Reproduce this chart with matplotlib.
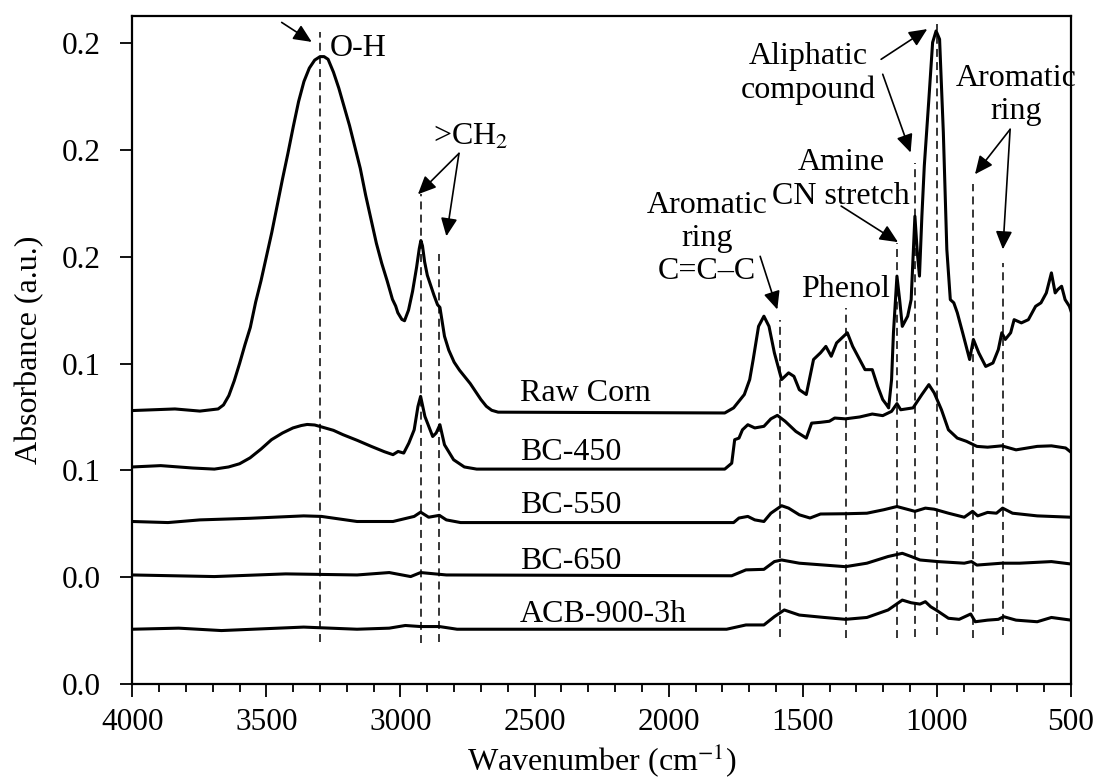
import matplotlib
matplotlib.use('Agg')
import matplotlib.pyplot as plt
from matplotlib.ticker import MultipleLocator, FormatStrFormatter

plt.rcParams['font.family'] = ['Liberation Serif', 'DejaVu Serif']
plt.rcParams['mathtext.fontset'] = 'stix'

# FTIR spectra (wavenumber in cm-1, absorbance offset per sample)
raw_wn = [4000, 3841, 3748, 3680, 3660, 3640, 3620, 3600, 3580, 3560, 3540, 3520, 3500, 3480,
          3460, 3440, 3420, 3400, 3380, 3360, 3340, 3320, 3300, 3285, 3270, 3250, 3230, 3210,
          3190, 3170, 3150, 3130, 3110, 3090, 3070, 3050, 3030, 3018, 3010, 2995, 2985, 2970,
          2955, 2940, 2930, 2924, 2918, 2910, 2900, 2890, 2875, 2862, 2853, 2845, 2836, 2820,
          2800, 2780, 2760, 2740, 2720, 2700, 2680, 2660, 2636, 1791, 1758, 1718, 1698, 1685,
          1665, 1645, 1626, 1606, 1579, 1553, 1533, 1513, 1487, 1460, 1434, 1414, 1394, 1374,
          1348, 1334, 1314, 1288, 1268, 1241, 1221, 1202, 1188, 1180, 1169, 1162, 1149, 1139,
          1129, 1109, 1096, 1082, 1073, 1065, 1056, 1047, 1030, 1016, 1003, 990, 976, 963,
          950, 937, 924, 904, 878, 864, 844, 818, 791, 771, 758, 745, 725, 712, 685, 659, 632,
          612, 592, 573, 559, 549, 535, 522, 506, 500]
raw_abs = [0.1024, 0.1030, 0.1022, 0.1030, 0.1045, 0.1080, 0.1135, 0.1200, 0.1270, 0.1335,
           0.1430, 0.1510, 0.1600, 0.1690, 0.1790, 0.1890, 0.1985, 0.2085, 0.2180, 0.2255,
           0.2305, 0.2335, 0.2348, 0.2348, 0.2338, 0.2290, 0.2230, 0.2160, 0.2090, 0.2010,
           0.1930, 0.1830, 0.1740, 0.1650, 0.1575, 0.1510, 0.1440, 0.1415, 0.1390, 0.1365,
           0.1360, 0.1400, 0.1470, 0.1560, 0.1630, 0.1660, 0.1640, 0.1580, 0.1530, 0.1500,
           0.1455, 0.1420, 0.1410, 0.1360, 0.1302, 0.1250, 0.1205, 0.1175, 0.1150, 0.1125,
           0.1095, 0.1065, 0.1040, 0.1025, 0.1018, 0.1015, 0.1034, 0.1084, 0.1140, 0.1215,
           0.1339, 0.1377, 0.1339, 0.1240, 0.1140, 0.1165, 0.1152, 0.1102, 0.1084, 0.1215,
           0.1240, 0.1264, 0.1227, 0.1277, 0.1302, 0.1315, 0.1264, 0.1215, 0.1177, 0.1177,
           0.1115, 0.1065, 0.1046, 0.1034, 0.1140, 0.1315, 0.1527, 0.1439, 0.1339, 0.1377,
           0.1439, 0.1751, 0.1614, 0.1527, 0.1751, 0.1939, 0.2188, 0.2401, 0.2444, 0.2413,
           0.2064, 0.1627, 0.1439, 0.1427, 0.1390, 0.1315, 0.1215, 0.1290, 0.1240, 0.1189,
           0.1202, 0.1252, 0.1315, 0.1290, 0.1315, 0.1364, 0.1352, 0.1364, 0.1414, 0.1427,
           0.1464, 0.1539, 0.1464, 0.1477, 0.1489, 0.1439, 0.1414, 0.1396]

bc450_wn = [4000, 3894, 3774, 3694, 3641, 3600, 3561, 3520, 3481, 3440, 3401, 3370, 3348, 3320,
            3295, 3250, 3215, 3160, 3109, 3060, 3028, 3009, 2988, 2969, 2949, 2935, 2925, 2909,
            2880, 2867, 2853, 2836, 2802, 2762, 2716, 1791, 1765, 1754, 1738, 1725, 1705, 1679,
            1645, 1619, 1595, 1566, 1526, 1487, 1467, 1434, 1401, 1381, 1341, 1288, 1241, 1202,
            1169, 1149, 1135, 1089, 1056, 1030, 1010, 983, 957, 924, 890, 851, 811, 758, 705,
            626, 573, 520, 500]
bc450_abs = [0.0813, 0.0818, 0.0809, 0.0805, 0.0813, 0.0825, 0.0847, 0.0880, 0.0915, 0.0940,
             0.0959, 0.0968, 0.0972, 0.0970, 0.0963, 0.0950, 0.0934, 0.0912, 0.0890, 0.0870,
             0.0859, 0.0871, 0.0865, 0.0902, 0.0952, 0.1039, 0.1077, 0.1002, 0.0927, 0.0940,
             0.0971, 0.0896, 0.0840, 0.0813, 0.0805, 0.0805, 0.0827, 0.0915, 0.0921, 0.0952,
             0.0971, 0.0959, 0.0965, 0.0993, 0.1006, 0.0984, 0.0946, 0.0921, 0.0977, 0.0980,
             0.0984, 0.0996, 0.0993, 0.1000, 0.1011, 0.1005, 0.1021, 0.1050, 0.1027, 0.1034,
             0.1084, 0.1121, 0.1090, 0.1027, 0.0952, 0.0921, 0.0909, 0.0890, 0.0887, 0.0892,
             0.0877, 0.0890, 0.0892, 0.0884, 0.0868]

bc550_wn = [4000, 3867, 3748, 3561, 3361, 3295, 3162, 3028, 2949, 2925, 2895, 2855, 2829, 2776,
            1758, 1738, 1705, 1679, 1645, 1619, 1579, 1553, 1513, 1473, 1434, 1341, 1261, 1198,
            1149, 1082, 1043, 1010, 957, 898, 867, 848, 811, 778, 755, 718, 626, 500]
bc550_abs = [0.0609, 0.0605, 0.0615, 0.0621, 0.0630, 0.0628, 0.0609, 0.0609, 0.0628, 0.0644,
             0.0625, 0.0632, 0.0615, 0.0605, 0.0605, 0.0622, 0.0628, 0.0615, 0.0609, 0.0640,
             0.0668, 0.0659, 0.0634, 0.0622, 0.0637, 0.0638, 0.0640, 0.0653, 0.0665, 0.0647,
             0.0659, 0.0655, 0.0640, 0.0625, 0.0647, 0.0630, 0.0643, 0.0640, 0.0659, 0.0640,
             0.0630, 0.0625]

bc650_wn = [4000, 3694, 3428, 3162, 3042, 2962, 2925, 2829, 1765, 1712, 1645, 1606, 1579, 1513,
            1420, 1341, 1261, 1182, 1129, 1096, 1063, 996, 898, 871, 851, 758, 692, 573, 500]
bc650_abs = [0.0409, 0.0403, 0.0413, 0.0409, 0.0418, 0.0403, 0.0418, 0.0409, 0.0406, 0.0428,
             0.0430, 0.0459, 0.0465, 0.0453, 0.0446, 0.0440, 0.0453, 0.0478, 0.0490, 0.0478,
             0.0465, 0.0459, 0.0453, 0.0459, 0.0446, 0.0453, 0.0453, 0.0459, 0.0450]

acb_wn = [4000, 3827, 3668, 3361, 3162, 3042, 2982, 2925, 2855, 2789, 1784, 1712, 1645, 1606,
          1569, 1513, 1420, 1341, 1261, 1182, 1129, 1096, 1063, 1043, 1023, 1003, 957, 917, 874,
          857, 811, 771, 751, 705, 626, 573, 500]
acb_abs = [0.0206, 0.0210, 0.0201, 0.0214, 0.0206, 0.0210, 0.0220, 0.0216, 0.0216, 0.0206,
           0.0206, 0.0222, 0.0222, 0.0253, 0.0278, 0.0259, 0.0250, 0.0243, 0.0250, 0.0278,
           0.0315, 0.0305, 0.0300, 0.0309, 0.0290, 0.0278, 0.0247, 0.0243, 0.0263, 0.0234,
           0.0240, 0.0243, 0.0253, 0.0240, 0.0234, 0.0250, 0.0240]

spectra = [(raw_wn, raw_abs), (bc450_wn, bc450_abs), (bc550_wn, bc550_abs),
           (bc650_wn, bc650_abs), (acb_wn, acb_abs)]
sample_names = ['Raw Corn', 'BC-450', 'BC-550', 'BC-650', 'ACB-900-3h']
name_baselines = [0.1058, 0.0840, 0.0640, 0.0431, 0.0234]

# band markers: position, top and bottom of the dashed guide
band_wn = [3300, 2925, 2858, 1585, 1340, 1147, 1081, 1001, 867, 755]
band_top = [0.2439, 0.1833, 0.1608, 0.1364, 0.1408, 0.1650, 0.1950, 0.2470, 0.1870, 0.1577]
band_bottom = [0.0160, 0.0154, 0.0160, 0.0178, 0.0172, 0.0172, 0.0178, 0.0185, 0.0172, 0.0185]

FS = 23

fig = plt.figure(figsize=(10.97, 7.8), dpi=100)
ax = fig.add_axes([0.1206, 0.1227, 0.8557, 0.8568])

for wn, ab in spectra:
    ax.plot(wn, ab, color='black', lw=2.2, solid_joinstyle='round')

ax.vlines(band_wn, band_bottom, band_top, colors='black', lw=1.1,
          linestyles=(0, (5.2, 3.4)))

for name, yb in zip(sample_names, name_baselines):
    ax.text(2555, yb, name, fontsize=FS, ha='left', va='baseline')

arrow = dict(arrowstyle='-|>,head_length=0.55,head_width=0.25', mutation_scale=20,
             color='black', lw=1.2, shrinkA=0, shrinkB=0)

def note(start, end):
    ax.annotate('', xy=end, xytext=start, arrowprops=arrow)

# O-H
ax.text(3265, 0.2351, 'O-H', fontsize=FS, ha='left', va='baseline')
note((3443, 0.2476), (3331, 0.2403))

# >CH2
ax.text(2879, 0.2017, r'>CH$_2$', fontsize=FS, ha='left', va='baseline')
note((2782, 0.1986), (2935, 0.1833))
note((2782, 0.1986), (2829, 0.1676))

# aromatic ring C=C-C
ax.text(1857, 0.1668, 'Aromatic\nring\nC=C\u2013C', fontsize=FS, ha='center', va='center')
note((1659, 0.1601), (1595, 0.1402))

ax.text(1340, 0.1477, 'Phenol', fontsize=FS, ha='center', va='center')

# amine
ax.text(1358, 0.1889, 'Amine\nCN stretch', fontsize=FS, ha='center', va='center')
note((1357, 0.1789), (1145, 0.1654))

# aliphatic
ax.text(1481, 0.2285, 'Aliphatic\ncompound', fontsize=FS, ha='center', va='center')
note((1208, 0.2338), (1036, 0.2451))
note((1202, 0.2282), (1098, 0.1989))

# aromatic ring (out of plane)
ax.text(705, 0.2205, 'Aromatic\nring', fontsize=FS, ha='center', va='center', clip_on=False)
note((727, 0.2076), (858, 0.1908))
note((727, 0.2076), (754, 0.1627))

ax.set_xlim(4000, 500)
ax.set_ylim(0, 0.25)
ax.xaxis.set_major_locator(MultipleLocator(500))
ax.xaxis.set_minor_locator(MultipleLocator(100))
ax.yaxis.set_major_locator(MultipleLocator(0.04))
ax.yaxis.set_major_formatter(FormatStrFormatter('%.1f'))
ax.tick_params(axis='both', which='major', direction='out', length=9, width=1.3,
               labelsize=22.5)
ax.tick_params(axis='x', which='major', pad=8)
ax.tick_params(axis='y', which='major', pad=14)
ax.tick_params(axis='x', which='minor', direction='out', length=6, width=1.3)
for sp in ax.spines.values():
    sp.set_linewidth(1.6)

ax.set_xlabel('Wavenumber (cm$^{-1}$)', fontsize=FS, labelpad=3)
ax.set_ylabel('Absorbance (a.u.)', fontsize=FS, labelpad=12)

fig.savefig('out.png', dpi=100)
